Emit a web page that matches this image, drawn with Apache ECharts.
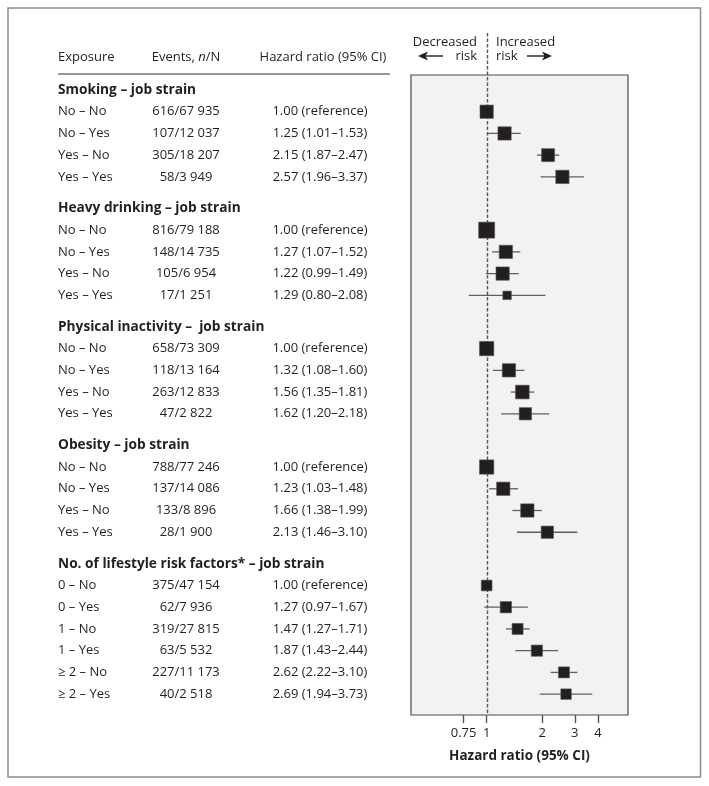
<!DOCTYPE html>
<html><head><meta charset="utf-8">
<script src="https://cdn.jsdelivr.net/npm/echarts@6/dist/echarts.min.js"></script>
<style>html,body{margin:0;padding:0;background:#fff}#c{width:709px;height:786px}</style>
</head><body><div id="c"></div>
<script>
// ---- data ----
const groupTitles = ['Smoking – job strain', 'Heavy drinking – job strain', 'Physical inactivity –  job strain', 'Obesity – job strain', 'No. of lifestyle risk factors* – job strain'];
const rowGroup = [0,0,0,0, 1,1,1,1, 2,2,2,2, 3,3,3,3, 4,4,4,4,4,4];
const exposure = ['No – No','No – Yes','Yes – No','Yes – Yes',
  'No – No','No – Yes','Yes – No','Yes – Yes',
  'No – No','No – Yes','Yes – No','Yes – Yes',
  'No – No','No – Yes','Yes – No','Yes – Yes',
  '0 – No','0 – Yes','1 – No','1 – Yes','≥ 2 – No','≥ 2 – Yes'];
const events = ['616/67 935','107/12 037','305/18 207','58/3 949',
  '816/79 188','148/14 735','105/6 954','17/1 251',
  '658/73 309','118/13 164','263/12 833','47/2 822',
  '788/77 246','137/14 086','133/8 896','28/1 900',
  '375/47 154','62/7 936','319/27 815','63/5 532','227/11 173','40/2 518'];
const hr = [1.00,1.25,2.15,2.57, 1.00,1.27,1.22,1.29, 1.00,1.32,1.56,1.62, 1.00,1.23,1.66,2.13, 1.00,1.27,1.47,1.87,2.62,2.69];
const ciLow = [null,1.01,1.87,1.96, null,1.07,0.99,0.80, null,1.08,1.35,1.20, null,1.03,1.38,1.46, null,0.97,1.27,1.43,2.22,1.94];
const ciHigh = [null,1.53,2.47,3.37, null,1.52,1.49,2.08, null,1.60,1.81,2.18, null,1.48,1.99,3.10, null,1.67,1.71,2.44,3.10,3.73];
const xTicks = [0.75, 1, 2, 3, 4];

// ---- style (marker sizes, layout) ----
const boxSize = [13.3,13.3,13,13.3, 16,13.3,13.3,8.5, 14.3,13.3,13.7,12.3, 14.3,13.3,13.3,12.3, 10.7,11.3,11,11.2,11,10.5];
const GROUP_GAP = 2.45;
const FONT = '"Open Sans", "Noto Sans", sans-serif';
const TXT = '#231f20';

// row positions derived from group structure
const pos = [];
let p = 0;
for (let i = 0; i < rowGroup.length; i++) {
  if (i > 0) p += (rowGroup[i] !== rowGroup[i-1]) ? GROUP_GAP : 1;
  pos.push(p);
}
const groupPos = groupTitles.map((t, g) => pos[rowGroup.indexOf(g)] - 1);
const hrText = hr.map((v, i) => ciLow[i] == null ? v.toFixed(2) + ' (reference)' :
  v.toFixed(2) + ' (' + ciLow[i].toFixed(2) + '–' + ciHigh[i].toFixed(2) + ')');

const chart = echarts.init(document.getElementById('c'), null, {renderer: 'canvas'});
const option = {
  animation: false,
  backgroundColor: '#fff',
  grid: {left: 411, top: 75, right: 81, bottom: 71, show: true, backgroundColor: '#f2f2f2', borderColor: '#4a4a4a', borderWidth: 1.2},
  xAxis: {
    type: 'log', logBase: 10, min: 0.3895, max: 5.82,
    axisLine: {show: false, onZero: false},
    splitLine: {show: false},
    axisTick: {show: true, customValues: xTicks, length: 8, lineStyle: {color: '#555', width: 1.4}},
    axisLabel: {customValues: xTicks, formatter: v => String(v), color: TXT, fontSize: 13, fontFamily: FONT, margin: 12},
    name: 'Hazard ratio (95% CI)', nameLocation: 'middle', nameGap: 34,
    nameTextStyle: {fontWeight: 'bold', fontSize: 13.5, color: TXT, fontFamily: FONT}
  },
  yAxis: {type: 'value', inverse: true, min: -1.689, max: 27.76, show: false},
  graphic: [
    {type: 'rect', shape: {x: 8, y: 8, width: 692.5, height: 769}, style: {fill: 'none', stroke: '#8a8a8a', lineWidth: 1.5}, silent: true, z: 0},
    {type: 'text', style: {text: 'Exposure', x: 58, y: 57, fill: TXT, font: '13px ' + FONT, textVerticalAlign: 'middle'}},
    {type: 'text', style: {text: '{a|Events, }{i|n}{a|/N}', x: 186, y: 57, textAlign: 'center', textVerticalAlign: 'middle',
      rich: {a: {fill: TXT, font: '13px ' + FONT}, i: {fill: TXT, font: 'italic 13px ' + FONT}}}},
    {type: 'text', style: {text: 'Hazard ratio (95% CI)', x: 323, y: 57, fill: TXT, font: '13px ' + FONT, textAlign: 'center', textVerticalAlign: 'middle'}},
    {type: 'line', shape: {x1: 58, y1: 74, x2: 390, y2: 74}, style: {stroke: '#333', lineWidth: 1.2}},
    {type: 'text', style: {text: 'Decreased', x: 477, y: 42, fill: TXT, font: '13px ' + FONT, textAlign: 'right', textVerticalAlign: 'middle'}},
    {type: 'text', style: {text: 'risk', x: 477, y: 56, fill: TXT, font: '13px ' + FONT, textAlign: 'right', textVerticalAlign: 'middle'}},
    {type: 'text', style: {text: 'Increased', x: 496, y: 42, fill: TXT, font: '13px ' + FONT, textAlign: 'left', textVerticalAlign: 'middle'}},
    {type: 'text', style: {text: 'risk', x: 496, y: 56, fill: TXT, font: '13px ' + FONT, textAlign: 'left', textVerticalAlign: 'middle'}},
    {type: 'line', shape: {x1: 425, y1: 56, x2: 443, y2: 56}, style: {stroke: TXT, lineWidth: 1.4}},
    {type: 'polygon', shape: {points: [[418, 56], [428, 51.5], [425.5, 56], [428, 60.5]]}, style: {fill: TXT}},
    {type: 'line', shape: {x1: 527, y1: 56, x2: 545, y2: 56}, style: {stroke: TXT, lineWidth: 1.4}},
    {type: 'polygon', shape: {points: [[552, 56], [542, 51.5], [544.5, 56], [542, 60.5]]}, style: {fill: TXT}}
  ],
  series: [
    { // table rows
      type: 'custom', silent: true, clip: false, z: 5,
      data: pos.map((v, i) => [1, v, i]),
      renderItem: (params, api) => {
        const i = api.value(2);
        const y = api.coord([1, api.value(1)])[1];
        return {type: 'group', children: [
          {type: 'text', style: {text: exposure[i], x: 58, y: y, fill: TXT, font: '13px ' + FONT, textVerticalAlign: 'middle'}},
          {type: 'text', style: {text: events[i], x: 186, y: y, fill: TXT, font: '13px ' + FONT, textAlign: 'center', textVerticalAlign: 'middle'}},
          {type: 'text', style: {text: hrText[i], x: 320, y: y, fill: TXT, font: '13px ' + FONT, textAlign: 'center', textVerticalAlign: 'middle'}}
        ]};
      }
    },
    { // group titles
      type: 'custom', silent: true, clip: false, z: 5,
      data: groupPos.map((v, g) => [1, v, g]),
      renderItem: (params, api) => {
        const g = api.value(2);
        const y = api.coord([1, api.value(1)])[1];
        return {type: 'text', style: {text: groupTitles[g], x: 58, y: y, fill: TXT, font: 'bold 13.7px ' + FONT, textVerticalAlign: 'middle'}};
      }
    },
    { // reference dashed line at HR = 1
      type: 'custom', silent: true, clip: false, z: 3,
      data: [[1, 27.76]],
      renderItem: (params, api) => {
        const pt = api.coord([api.value(0), api.value(1)]);
        const x = Math.round(pt[0]) + 0.5;
        return {type: 'line', shape: {x1: x, y1: 33, x2: x, y2: pt[1]}, style: {stroke: '#555', lineWidth: 1.4, lineDash: [3.5, 2]}};
      }
    },
    { // confidence intervals
      type: 'custom', silent: true, z: 4,
      data: pos.map((v, i) => [ciLow[i] == null ? hr[i] : ciLow[i], ciHigh[i] == null ? hr[i] : ciHigh[i], v]),
      renderItem: (params, api) => {
        const a = api.coord([api.value(0), api.value(2)]);
        const b = api.coord([api.value(1), api.value(2)]);
        return {type: 'line', shape: {x1: a[0], y1: a[1], x2: b[0], y2: b[1]}, style: {stroke: '#5f5f5f', lineWidth: 1.3}};
      }
    },
    { // hazard ratio boxes
      type: 'scatter', silent: true, z: 6,
      symbol: 'rect',
      symbolSize: (val, params) => boxSize[params.dataIndex],
      itemStyle: {color: '#231f20', borderColor: '#555', borderWidth: 0.6, opacity: 1},
      data: hr.map((v, i) => [v, pos[i]])
    }
  ]
};
chart.setOption(option);
</script></body></html>
